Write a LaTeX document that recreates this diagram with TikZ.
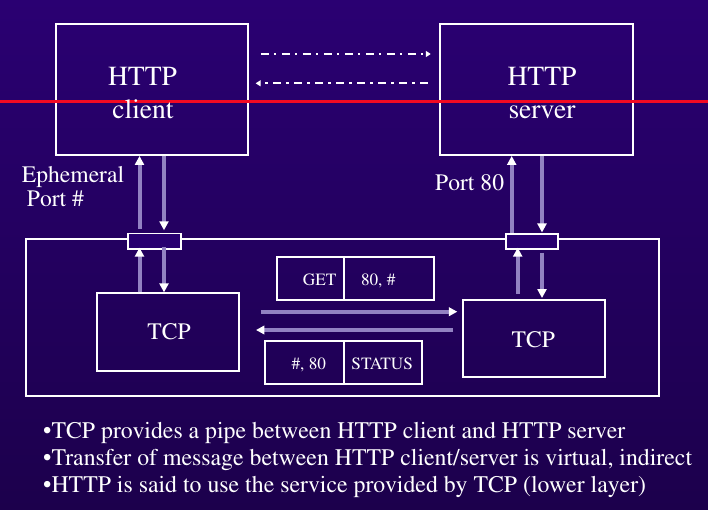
\documentclass[tikz,border=0pt]{standalone}
\usepackage[T1]{fontenc}
\usepackage{times}
\usetikzlibrary{arrows.meta}
\definecolor{bgtop}{HTML}{2A0072}
\definecolor{bgbot}{HTML}{1C004C}
\definecolor{bgfill}{HTML}{280070}
\definecolor{pipec}{HTML}{9282C2}
\definecolor{redline}{HTML}{F40A22}
\begin{document}
\begin{tikzpicture}[x=1pt,y=-1pt,
  wbox/.style={draw=white,line width=1.9pt,inner sep=0pt,rectangle},
  portbox/.style={wbox,fill=bgfill},
  txt/.style={text=white,inner sep=0pt,anchor=base},
  big/.style={font=\fontsize{27.6}{33}\selectfont},
  mid/.style={font=\fontsize{23.6}{28}\selectfont},
  bul/.style={font=\fontsize{23.8}{28}\selectfont},
  small/.style={font=\fontsize{17.2}{20}\selectfont},
  pipe/.style={draw=pipec,line width=4pt,-{Triangle[length=9pt,width=9pt,color=white]}},
  flow/.style={draw=pipec,line width=4pt,-{Triangle[length=8.5pt,width=8.5pt,color=white]}},
  dda/.style={draw=white,line width=2pt,dash pattern=on 8pt off 5pt on 2.5pt off 5.5pt,-{Triangle[length=5pt,width=6pt]}}
]
\useasboundingbox (0,0) rectangle (708,509);
\shade[top color=bgtop,bottom color=bgbot] (0,0) rectangle (708,509);

% boxes
\node[wbox,minimum width=192.6pt,minimum height=131pt] (client) at (152,89.5) {};
\node[wbox,minimum width=193.5pt,minimum height=131pt] (server) at (536.5,89.5) {};
\node[wbox,minimum width=633.3pt,minimum height=156.7pt] (net) at (342.35,317.65) {};
\node[wbox,minimum width=142.2pt,minimum height=77.4pt] (tcpL) at (168.3,332) {};
\node[wbox,minimum width=141.8pt,minimum height=77pt] (tcpR) at (534.2,338.5) {};
\node[portbox,minimum width=53pt,minimum height=15.8pt] (p1) at (154.2,241.4) {};
\node[portbox,minimum width=52.6pt,minimum height=15.6pt] (p2) at (532,241.5) {};
% packets
\node[wbox,minimum width=66.5pt,minimum height=42.7pt] (getA) at (310.55,278.65) {};
\node[wbox,minimum width=90.5pt,minimum height=42.7pt] (getB) at (389.05,278.65) {};
\node[wbox,minimum width=78.5pt,minimum height=43pt] (stA) at (304.55,362.8) {};
\node[wbox,minimum width=78.2pt,minimum height=43pt] (stB) at (382.9,362.8) {};

% red line
\draw[redline,line width=3.5pt] (0,101.6) -- (708,101.6);

% dash-dot virtual arrows
\draw[dda,shorten <=11.7pt,shorten >=8pt] (client.east |- 0,54) -- (server.west |- 0,54);
\draw[dda,shorten <=11pt,shorten >=6.4pt] (server.west |- 0,83.3) -- (client.east |- 0,83.3);

% client side pipes
\draw[pipe,shorten <=3.5pt,shorten >=0pt] (139.5,0 |- p1.north) -- (139.5,0 |- client.south);
\draw[pipe,shorten >=2.3pt] (164,0 |- client.south) -- (164,0 |- p1.north);
\draw[pipe,shorten >=-2.6pt] (139.5,0 |- tcpL.north) -- (139.5,0 |- p1.south);
\draw[pipe,shorten <=-3.3pt] (164,0 |- p1.south) -- (164,0 |- tcpL.north);
% server side pipes
\draw[pipe] (511.7,0 |- p2.north) -- (511.7,0 |- server.south);
\draw[pipe,shorten >=0.3pt] (542,0 |- server.south) -- (542,0 |- p2.north);
\draw[pipe,shorten <=5.5pt,shorten >=-2.6pt] (517.7,0 |- tcpR.north) -- (517.7,0 |- p2.south);
\draw[pipe,shorten <=2.4pt,shorten >=1pt] (542,0 |- p2.south) -- (542,0 |- tcpR.north);

% TCP to TCP
\draw[flow,shorten <=20.6pt,shorten >=5pt] (tcpL.east |- 0,311.7) -- (tcpR.west |- 0,311.7);
\draw[flow,shorten <=9.3pt,shorten >=15.6pt] (tcpR.west |- 0,330) -- (tcpL.east |- 0,330);

% texts
\node[txt,big] (t1) at (142.5,85) {HTTP};
\node[txt,big] (t2) at (143,118.3) {client};
\node[txt,big] (t3) at (542,85) {HTTP};
\node[txt,big] (t4) at (542,118.3) {server};
\node[txt,mid,anchor=base west] (t5) at (21.7,182.7) {Ephemeral};
\node[txt,mid,anchor=base west] (t6) at (26.7,206.7) {Port \#};
\node[txt,mid,anchor=base west] (t7) at (435,190) {Port 80};
\node[txt,mid] (t8) at (169,339) {TCP};
\node[txt,mid] (t9) at (533.3,347.7) {TCP};
\node[txt,small] (t10) at (319.7,285) {GET};
\node[txt,small] (t11) at (378.2,285) {80, \#};
\node[txt,small] (t12) at (308.8,369) {\#, 80};
\node[txt,small] (t13) at (382.2,369) {STATUS};
\node[txt,bul,anchor=base west] (b1) at (43,438) {\textbullet TCP provides a pipe between HTTP client and HTTP server};
\node[txt,bul,anchor=base west] (b2) at (43,465) {\textbullet Transfer of message between HTTP client/server is virtual, indirect};
\node[txt,bul,anchor=base west] (b3) at (43,492) {\textbullet HTTP is said to use the service provided by TCP (lower layer)};
\end{tikzpicture}
\end{document}
